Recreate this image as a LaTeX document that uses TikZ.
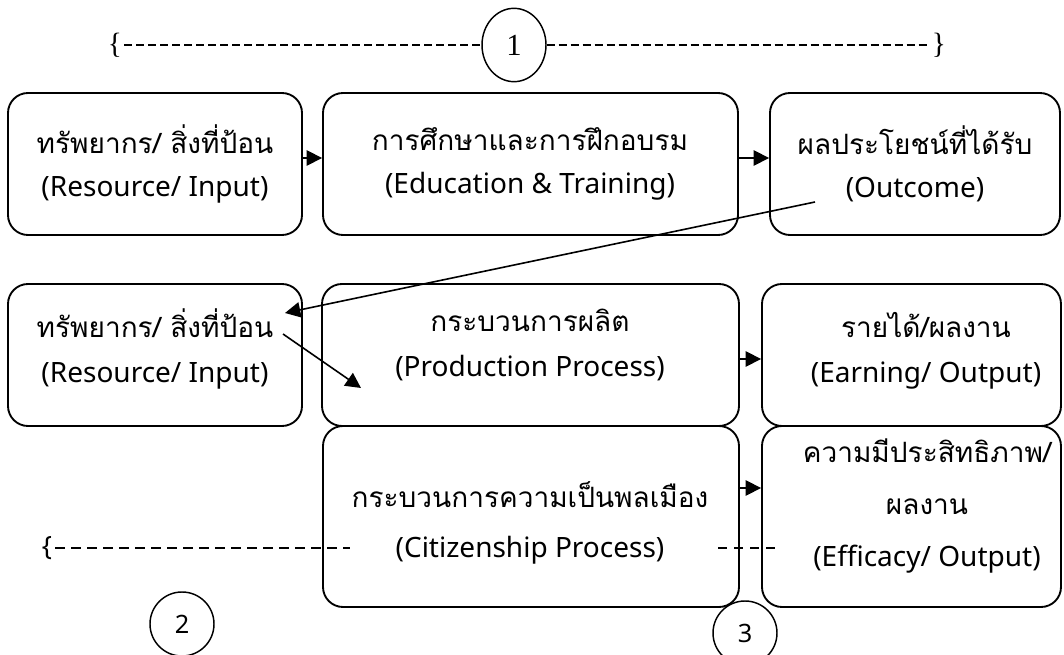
\documentclass[tikz,border=0pt]{standalone}
\usepackage{fontspec}
\setmainfont{Noto Sans}
\newfontfamily\thai[Script=Thai]{Loma}
\newfontfamily\numserif{Liberation Serif}
\usetikzlibrary{arrows.meta,calc,shapes.geometric}

\begin{document}
\begin{tikzpicture}[x=0.75pt,y=-0.75pt,
  box/.style={draw,line width=1.4pt,rounded corners=15pt,inner sep=0pt},
  rowa/.style={box,minimum height=106.5pt},
  rowc/.style={box,minimum height=135.75pt},
  txt/.style={align=center,inner sep=0pt},
  flow/.style={line width=1.2pt,-{Triangle[length=11.5pt,width=11.5pt]}},
  ring/.style={draw,line width=1.1pt,circle,minimum size=48pt,inner sep=0pt,font=\fontsize{19}{19}\selectfont},
  guide/.style={line width=1.5pt,dash pattern=on 6pt off 3pt},
  guidethin/.style={line width=1.1pt,dash pattern=on 7pt off 5pt}]
\useasboundingbox (0,0) rectangle (1064,655);

% first chain
\node[rowa,minimum width=220.5pt] (b1) at (155,164) {};
\node[rowa,minimum width=311.25pt] (b2) at (530.5,164) {};
\node[rowa,minimum width=217.5pt] (b3) at (915,164) {};
% second chain
\node[rowa,minimum width=220.5pt] (b4) at (155,355) {};
\node[rowa,minimum width=312.75pt] (b5) at (530.5,355) {};
\node[rowa,minimum width=224.25pt] (b6) at (911.5,355) {};
\node[rowc,minimum width=312pt] (b7) at (531,516.5) {};
\node[rowc,minimum width=224.25pt] (b8) at (911.5,516.5) {};

% box texts
\node[txt,font=\fontsize{21}{32}\selectfont] (t1) at (155,164) {{\thai ทรัพยากร/ สิ่งที่ป้อน}\\(Resource/ Input)};
\node[txt,font=\fontsize{21}{32}\selectfont] (t2) at (530,164) {{\thai การศึกษาและการฝึกอบรม}\\(Education \& Training)};
\node[txt,font=\fontsize{21}{32}\selectfont] (t3) at (915,164) {{\thai ผลประโยชน์ที่ได้รับ}\\(Outcome)};
\node[txt,font=\fontsize{21}{34}\selectfont] (t4) at (155,349) {{\thai ทรัพยากร/ สิ่งที่ป้อน}\\(Resource/ Input)};
\node[txt,font=\fontsize{21}{34}\selectfont] (t5) at (530,345) {{\thai กระบวนการผลิต}\\(Production Process)};
\node[txt,font=\fontsize{21}{34}\selectfont] (t6) at (926,351) {{\thai รายได้/ผลงาน}\\(Earning/ Output)};
\node[txt,font=\fontsize{21}{37.5}\selectfont] (t7) at (530,523) {{\thai กระบวนการความเป็นพลเมือง}\\(Citizenship Process)};
\node[txt,font=\fontsize{21}{39}\selectfont] (t8) at (927,506) {{\thai ความมีประสิทธิภาพ/}\\{\thai ผลงาน}\\(Efficacy/ Output)};

% connectors between boxes
\draw[flow] ($(b1.east)+(0,-6)$) -- ($(b2.west)+(0,-6)$);
\draw[flow] ($(b2.east)+(0,-6)$) -- ($(b3.west)+(0,-6)$);
\draw[flow] ($(b5.east)+(0,4)$) -- ($(b6.west)+(0,4)$);
\draw[flow] ($(b7.east)+(0,-28.5)$) -- ($(b8.west)+(0,-28.5)$);

% feedback and input arrows
\coordinate (gain) at (815,202);
\coordinate (reuse) at (285,313);
\coordinate (feed) at (283,334);
\coordinate (intake) at (361,388);
\draw[flow] (gain) -- (reuse);
\draw[flow] (feed) -- (intake);

% bracket 1
\node[font=\numserif\fontsize{22}{22}\selectfont,inner sep=0pt] (lb1) at (115,45) {\{};
\node[draw,ellipse,line width=1.1pt,minimum width=48pt,minimum height=55pt,inner sep=0pt,font=\numserif\fontsize{23}{23}\selectfont] (c1) at (514,45) {1};
\node[font=\numserif\fontsize{22}{22}\selectfont,inner sep=0pt] (rb1) at (939,45) {\}};
\draw[guide] ($(lb1.east)+(2,0)$) -- (c1.west);
\draw[guide] (c1.east) -- ($(rb1.west)+(-2,0)$);

% bracket 2 and 3
\node[font=\fontsize{20}{20}\selectfont,inner sep=0pt] (lb2) at (47,548) {\{};
\coordinate (g2end) at (350,548);
\coordinate (g3a) at (718,548);
\coordinate (g3b) at (780,548);
\draw[guidethin] ($(lb2.east)+(3,0)$) -- (g2end);
\draw[guidethin] (g3a) -- (g3b);
\node[ring] (c2) at (182,624) {2};
\node[ring] (c3) at (745,633) {3};
\end{tikzpicture}
\end{document}
